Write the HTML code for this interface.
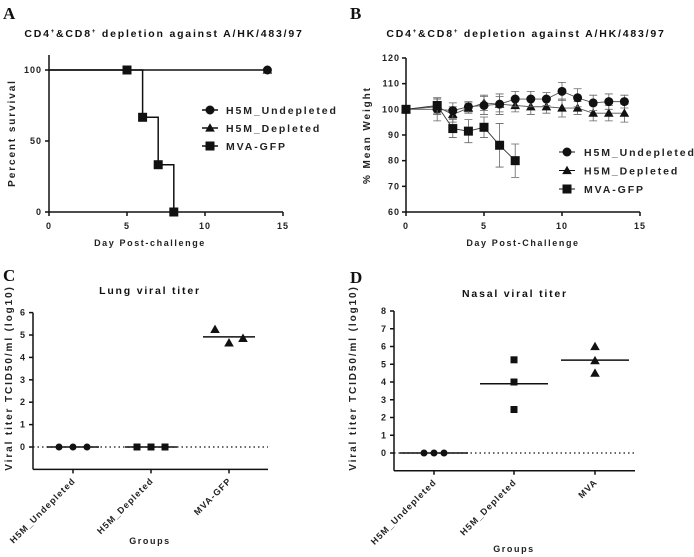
<!DOCTYPE html>
<html><head><meta charset="utf-8"><style>
body{margin:0;background:#fff;}
svg{display:block;font-family:"Liberation Sans",sans-serif;}
.t{font-size:9px;font-weight:bold;fill:#222;letter-spacing:1px}
.tr{font-size:9px;font-weight:bold;fill:#222;letter-spacing:1.1px}
.ttl{font-size:10.5px;font-weight:bold;fill:#111;letter-spacing:1.8px}
.ax{font-size:9px;font-weight:bold;fill:#222;letter-spacing:1.6px}
.axy{font-size:10px;font-weight:bold;fill:#222;letter-spacing:1.9px}
.lg{font-size:10.5px;font-weight:bold;fill:#222;letter-spacing:1.9px}
.pl{font-family:"Liberation Serif",serif;font-size:17px;font-weight:bold;fill:#111}
</style></head><body>
<svg id="s" width="694" height="557" viewBox="0 0 694 557"></svg>
<script>
// ---- Panel A data
const survMVADays=[5,6,7,8];
const survMVA=[100,66.7,33.3,0];
const aXTicks=[0,5,10,15];
const aYTicks=[0,50,100];
// ---- Panel B data
const bDays=[0,2,3,4,5,6,7,8,9,10,11,12,13,14];
const bUndep=[100,100,99.5,101,101.5,102,104,104,104,107,104.5,102.5,103,103];
const bUndepErr=[0,4.5,3,2,3.5,4,3,3,2.5,3.5,3.5,3,3,2.5];
const bDep=[100,101,98,100.5,102.5,102,101.5,101,101,100.5,100.5,98.5,98.5,98.5];
const bDepErr=[0,3,3,2,3,3,2.5,3,2.5,3.5,2.5,3,3,3.5];
const bMVADays=[0,2,3,4,5,6,7];
const bMVA=[100,101.5,92.5,91.5,93,86,80];
const bMVAErr=[0,3,3.5,4.5,4,8.5,6.5];
const bYTicks=[60,70,80,90,100,110,120];
const bXTicks=[0,5,10,15];
// ---- Panel C data
const cGroups=["H5M_Undepleted","H5M_Depleted","MVA-GFP"];
const cUndep=[0,0,0];
const cDep=[0,0,0];
const cMVA=[5.25,4.65,4.85];
const cYTicks=[0,1,2,3,4,5,6];
// ---- Panel D data
const dGroups=["H5M_Undepleted","H5M_Depleted","MVA"];
const dUndep=[0,0,0];
const dDep=[5.25,4.0,2.45];
const dMVA=[6.0,5.2,4.5];
const dYTicks=[0,1,2,3,4,5,6,7,8];

const NS="http://www.w3.org/2000/svg";
const svg=document.getElementById('s');
function mk(tag,at,parent,txt){const e=document.createElementNS(NS,tag);for(const k in at)e.setAttribute(k,at[k]);if(txt!==undefined)e.textContent=txt;(parent||svg).appendChild(e);return e;}
function line(x1,y1,x2,y2,w,dash){const e=mk('line',{x1,y1,x2,y2,stroke:'#111','stroke-width':w||1.5});if(dash)e.setAttribute('stroke-dasharray',dash);return e;}
function marker(type,x,y,s){let e;
 if(type==='c')e=mk('circle',{cx:x,cy:y,r:s/2,fill:'#111'});
 else if(type==='s')e=mk('rect',{x:x-s/2,y:y-s/2,width:s,height:s,fill:'#111'});
 else e=mk('polygon',{points:`${x},${y-s*0.6} ${x-s*0.6},${y+s*0.45} ${x+s*0.6},${y+s*0.45}`,fill:'#111'});
 return e;}
function text(x,y,s,cls,anchor,extra){const e=mk('text',Object.assign({x,y,class:cls,'text-anchor':anchor||'middle'},extra||{}),null,s);return e;}
const TITLE='CD4<tspan dy="-4" font-size="6">+</tspan><tspan dy="4">&amp;CD8</tspan><tspan dy="-4" font-size="6">+</tspan><tspan dy="4"> depletion against A/HK/483/97</tspan>';

// ============ Panel A ============
{const x=v=>49+v*15.6, y=v=>212-v*1.42;
 let e=text(3,19,'A','pl','start');
 e=text(164,37,'','ttl');
 e.innerHTML=TITLE;
 e=line(49,55,49,212);
 e=line(49,212,283,212);
 aYTicks.forEach(v=>{line(45,y(v),49,y(v));e=text(42,y(v)+3,String(v),'t','end');});
 aXTicks.forEach(v=>{line(x(v),212,x(v),216);e=text(x(v),229,String(v),'t');});
 e=text(15,133,'Percent survival','axy','middle',{transform:'rotate(-90 15 133)'});
 e=text(150,246,'Day Post-challenge','ax');
 e=line(x(0),y(100),x(14),y(100));
 e=marker('c',x(14),y(100),9);
 e=marker('t',x(14),y(100),8);
 let d='M'+x(0)+','+y(100);survMVADays.forEach((dd,i)=>{d+=' H'+x(dd)+' V'+y(survMVA[i]);});
 e=mk('path',{d,fill:'none',stroke:'#111','stroke-width':1.5});
 survMVADays.forEach((dd,i)=>{e=marker('s',x(dd),y(survMVA[i]),9);});
 [['c','H5M_Undepleted'],['t','H5M_Depleted'],['s','MVA-GFP']].forEach((l,i)=>{const yy=110+i*18;line(202,yy,218,yy);marker(l[0],210,yy,l[0]==='t'?8:9);
  e=text(226,yy+4,l[1],'lg','start');});
}
// ============ Panel B ============
{const x=v=>406+v*15.6, y=v=>212-(v-60)*2.567;
 let e=text(350,19,'B','pl','start');
 e=text(526,37,'','ttl');
 e.innerHTML=TITLE;
 e=line(406,58,406,212);
 e=line(406,212,640,212);
 bYTicks.forEach(v=>{line(402,y(v),406,y(v));e=text(400,y(v)+3,String(v),'t','end');});
 bXTicks.forEach(v=>{line(x(v),212,x(v),216);e=text(x(v),229,String(v),'t');});
 e=text(370,135,'% Mean Weight','axy','middle',{transform:'rotate(-90 370 135)'});
 e=text(523,246,'Day Post-Challenge','ax');
 function series(days,vals,errs,type,name,col){
  days.forEach((dd,i)=>{if(errs[i]>0){const g=mk('path',{d:`M${x(dd)},${y(vals[i]-errs[i])}V${y(vals[i]+errs[i])}M${x(dd)-4},${y(vals[i]-errs[i])}h8M${x(dd)-4},${y(vals[i]+errs[i])}h8`,stroke:'#666','stroke-width':0.8,fill:'none'});}});
  const p=mk('polyline',{points:days.map((dd,i)=>x(dd)+','+y(vals[i])).join(' '),fill:'none',stroke:col,'stroke-width':0.9});
  days.forEach((dd,i)=>{const m=marker(type,x(dd),y(vals[i]),type==='t'?8:9);});
 }
 series(bDays,bDep,bDepErr,'t','weight-depleted','#555');
 series(bDays,bUndep,bUndepErr,'c','weight-undepleted','#555');
 series(bMVADays,bMVA,bMVAErr,'s','weight-mva','#333');
 [['c','H5M_Undepleted'],['t','H5M_Depleted'],['s','MVA-GFP']].forEach((l,i)=>{const yy=152+i*18.5;line(559,yy,575,yy,1);marker(l[0],567,yy,l[0]==='t'?8:9);
  e=text(584,yy+4,l[1],'lg','start');});
}
// ============ Dot plots ============
function dotPlot(o){
 const y=v=>o.y0-v*o.u;
 let e=text(o.lx,o.ly,o.letter,'pl','start');
 e=text(o.tx,o.ty,o.title,'ttl');
 const bot=y(-1);
 e=line(o.ax,y(o.ymax),o.ax,bot);
 e=line(o.ax,bot,o.ax2,bot);
 e=line(o.ax,y(0),o.ax2,y(0),1.2,'1.5,3');
 o.ticks.forEach(v=>{line(o.ax-4,y(v),o.ax,y(v));e=text(o.ax-7,y(v)+3,String(v),'t','end');});
 e=text(o.ytx,o.yty,'Viral titer TCID50/ml (log10)','axy','middle',{transform:`rotate(-90 ${o.ytx} ${o.yty})`});
 o.groups.forEach((g,i)=>{const cx=o.cx[i];line(cx,bot,cx,bot+4);
  e=text(cx+3,bot+12,g,'tr','end',{transform:`rotate(-45 ${cx+3} ${bot+12})`});
  const vals=o.data[i],n=vals.length;const mean=vals.reduce((a,b)=>a+b,0)/n;
  e=line(cx-o.half,y(mean),cx+o.half,y(mean),1.5);
  vals.forEach((v,j)=>{const dx=o.spread[i]*(j-1);const m=marker(o.types[i],cx+dx,y(v),o.types[i]==='t'?8:7);});
 });
 e=text(o.gx,o.gy,'Groups','ax');
}
dotPlot({id:'lung',letter:'C',lx:3,ly:281,title:'Lung viral titer',tx:150,ty:294,ax:33,ax2:268,y0:447,u:22.4,ymax:6,ticks:cYTicks,ytx:12,yty:378,
 groups:cGroups,cx:[73,151,229],data:[cUndep,cDep,cMVA],types:['c','s','t'],spread:[14,14,14],half:26,gx:150,gy:544});
dotPlot({id:'nasal',letter:'D',lx:350,ly:283,title:'Nasal viral titer',tx:515,ty:297,ax:394,ax2:635,y0:453,u:17.75,ymax:8,ticks:dYTicks,ytx:356,yty:378,
 groups:dGroups,cx:[434,514,595],data:[dUndep,dDep,dMVA],types:['c','s','t'],spread:[10,0,0],half:34,gx:514,gy:552});
</script>
</body></html>
